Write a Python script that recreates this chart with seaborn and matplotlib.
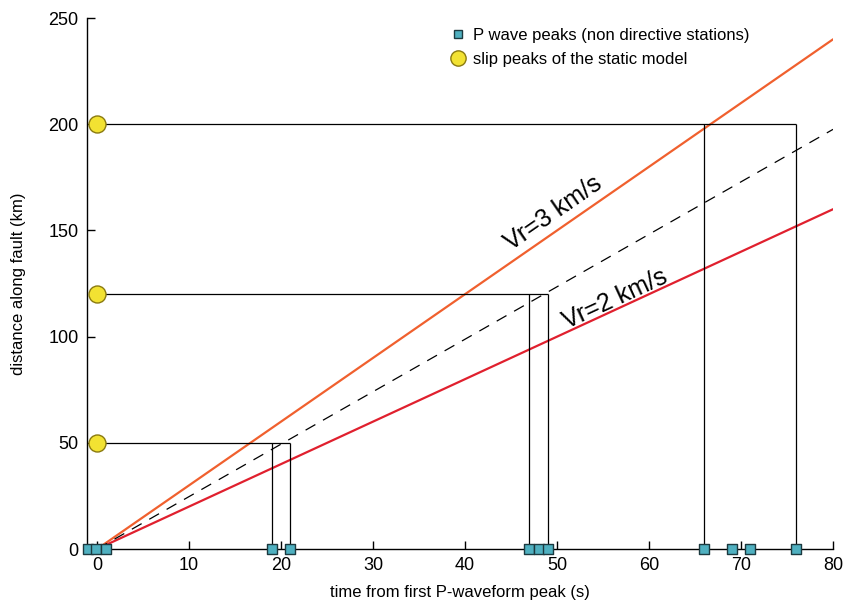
import numpy as np
import pandas as pd
import matplotlib
matplotlib.use("Agg")
import matplotlib.pyplot as plt
import seaborn as sns
from matplotlib.lines import Line2D

# Tiempos de los picos de onda P (estaciones no directivas), en s
p_peaks_t = [-1.0, -0.1, 1.0, 19.0, 21.0, 47.0, 48.0, 49.0, 66.0, 69.0, 71.0, 76.0]
# Picos de deslizamiento del modelo estático, en km
slip_peaks_km = [50, 120, 200]
# Tiempos (min, max) de la ventana asociada a cada pico
group_t_min = [19.0, 47.0, 66.0]
group_t_max = [21.0, 49.0, 76.0]
# Velocidades de ruptura (km/s) y pendiente del ajuste punteado
vr_labels = ["Vr=3 km/s", "Vr=2 km/s"]
vr_values = [3.0, 2.0]
fit_slope = 2.47
t_line = [0.0, 80.0]

sns.set_style("ticks", {"text.color": "black", "axes.labelcolor": "black",
                        "xtick.color": "black", "ytick.color": "black"})
plt.rcParams['font.family'] = ['Liberation Sans', 'DejaVu Sans']

fig = plt.figure(figsize=(8.43, 6.02), dpi=100)
ax = fig.add_axes([0.1032, 0.088, 0.885, 0.882])

# rectas de velocidad de ruptura
colores = ["#f0602e", "#e0202e"]
for vr, c in zip(vr_values, colores):
    df = pd.DataFrame({"t": t_line, "d": [vr * t for t in t_line]})
    sns.lineplot(data=df, x="t", y="d", color=c, lw=1.6, ax=ax)
df_fit = pd.DataFrame({"t": t_line, "d": [fit_slope * t for t in t_line]})
sns.lineplot(data=df_fit, x="t", y="d", color="black", lw=0.9, ax=ax)
ax.lines[-1].set_dashes([9, 7])

# líneas de conexión entre picos
for d, t0, t1 in zip(slip_peaks_km, group_t_min, group_t_max):
    ax.hlines(d, 0, t1, color="black", lw=0.9)
    ax.vlines([t0, t1], 0, d, color="black", lw=0.9)

# marcadores
sns.scatterplot(x=p_peaks_t, y=[0] * len(p_peaks_t), marker="s", s=45,
                color="#4fb0c0", edgecolor="#1c3a40", linewidth=1.0,
                ax=ax, zorder=5, clip_on=False)
sns.scatterplot(x=[0] * len(slip_peaks_km), y=slip_peaks_km, marker="o", s=150,
                color="#f2e232", edgecolor="#8a7a10", linewidth=1.0,
                ax=ax, zorder=5, clip_on=False)

ax.text(49.6, 158, vr_labels[0], rotation=34.7, fontsize=18, color="black",
        ha="center", va="center", rotation_mode="anchor")
ax.text(56.3, 117.5, vr_labels[1], rotation=24.8, fontsize=18, color="black",
        ha="center", va="center", rotation_mode="anchor")

ax.set_xlim(-1.1, 80)
ax.set_ylim(0, 250)
ax.set_xticks(range(0, 81, 10))
ax.set_yticks(range(0, 251, 50))
ax.tick_params(direction="in", length=6, width=1, labelsize=13, pad=6,
               colors="black")
ax.set_xlabel("time from first P-waveform peak (s)", fontsize=12, labelpad=8)
ax.set_ylabel("distance along fault (km)", fontsize=12, labelpad=16)
sns.despine(ax=ax)
for s in ["left", "bottom"]:
    ax.spines[s].set_linewidth(1.0)
    ax.spines[s].set_color("black")

handles = [
    Line2D([], [], ls="", marker="s", ms=6, mfc="#4fb0c0", mec="#1c3a40"),
    Line2D([], [], ls="", marker="o", ms=11, mfc="#f2e232", mec="#8a7a10"),
]
ax.legend(handles, ["P wave peaks (non directive stations)", "slip peaks of the static model"],
          loc="upper left", bbox_to_anchor=(0.46, 1.01), frameon=False,
          fontsize=12, handletextpad=0.15, labelspacing=0.55, handlelength=1.5)

plt.savefig("out.png", dpi=100)
